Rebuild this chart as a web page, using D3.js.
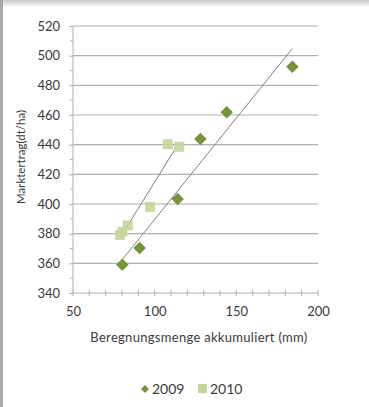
<!DOCTYPE html>
<html><head><meta charset="utf-8">
<script src="https://cdn.jsdelivr.net/npm/d3@7"></script>
<style>
body{margin:0;padding:0;background:#fff;}
text{font-family:Lato,"Open Sans",sans-serif;fill:#3a3a3a;}
</style></head>
<body>
<svg id="c" width="369" height="407"></svg>
<script>
const x2009 = [80.2, 90.8, 114.1, 128, 144.1, 184.3];
const y2009 = [359, 370.3, 403.4, 443.8, 461.8, 492.6];
const x2010 = [78.8, 80.2, 83.5, 97.2, 108, 115.1];
const y2010 = [379.1, 381.3, 385.6, 398, 440.3, 438.6];
const xTicks = [50, 100, 150, 200];
const yTicks = [340, 360, 380, 400, 420, 440, 460, 480, 500, 520];
const seriesNames = ["2009", "2010"];

const svg = d3.select("#c");
const FONT = "Lato,'Open Sans',sans-serif";
// frame
const defs = svg.append("defs");
const g1 = defs.append("linearGradient").attr("id","tg").attr("x1",0).attr("y1",0).attr("x2",0).attr("y2",1);
g1.append("stop").attr("offset","0%").attr("stop-color","#c8c8c8");
g1.append("stop").attr("offset","100%").attr("stop-color","#f2f2f2");
svg.append("rect").attr("x",0).attr("y",0).attr("width",369).attr("height",407).attr("fill","#fff");
svg.append("rect").attr("x",0).attr("y",0).attr("width",369).attr("height",6).attr("fill","url(#tg)");
svg.append("rect").attr("x",0).attr("y",0).attr("width",3).attr("height",407).attr("fill","#a8a8a8");

const x = d3.scaleLinear().domain([50,200]).range([73,318]);
const y = d3.scaleLinear().domain([340,520]).range([293,26]);

// gridlines
svg.append("g").selectAll("line").data(yTicks.slice(1)).join("line")
  .attr("x1",73).attr("x2",318).attr("y1",d=>y(d)).attr("y2",d=>y(d))
  .attr("stroke","#b0b0b0").attr("stroke-width",1.2);

// y axis
const ya = svg.append("g").attr("transform","translate(73,0)")
  .call(d3.axisLeft(y).tickValues(yTicks).tickSize(4).tickPadding(9));
ya.select(".domain").attr("stroke","#b0b0b0").attr("d","M0,26V293");
ya.selectAll(".tick line").attr("stroke","#b0b0b0");
ya.selectAll("text").attr("font-size","13px").attr("fill","#3a3a3a").attr("font-family",FONT);
svg.append("g").selectAll("line").data(d3.range(350,520,20)).join("line")
  .attr("x1",70).attr("x2",73).attr("y1",d=>y(d)).attr("y2",d=>y(d)).attr("stroke","#b0b0b0");

// x axis
const xa = svg.append("g").attr("transform","translate(0,293)")
  .call(d3.axisBottom(x).tickValues(xTicks).tickSize(0).tickPadding(14));
xa.select(".domain").attr("stroke","#b0b0b0").attr("d","M73,0H318");
xa.selectAll("text").attr("font-size","13px").attr("fill","#3a3a3a").attr("font-family",FONT);
svg.append("g").selectAll("line").data(d3.range(50,201,10)).join("line")
  .attr("x1",d=>x(d)).attr("x2",d=>x(d)).attr("y1",290).attr("y2",296).attr("stroke","#b0b0b0");

// titles
svg.append("text").attr("transform","translate(25,157) rotate(-90)").attr("text-anchor","middle")
  .attr("font-size","11.5px").text("Marktertrag(dt/ha)");
svg.append("text").attr("x",199).attr("y",342).attr("text-anchor","middle")
  .attr("font-size","13px").attr("letter-spacing","0.3px").text("Beregnungsmenge akkumuliert (mm)");

// trend lines (least squares)
function fit(xs, ys){
  const mx=d3.mean(xs), my=d3.mean(ys);
  const s=d3.sum(xs,(v,i)=>(v-mx)*(ys[i]-my))/d3.sum(xs,v=>(v-mx)*(v-mx));
  const x0=d3.min(xs), x1=d3.max(xs);
  return [[x0,my+s*(x0-mx)],[x1,my+s*(x1-mx)]];
}
[[x2009,y2009],[x2010,y2010]].forEach(([xs,ys])=>{
  const p=fit(xs,ys);
  svg.append("line").attr("x1",x(p[0][0])).attr("y1",y(p[0][1])).attr("x2",x(p[1][0])).attr("y2",y(p[1][1]))
    .attr("stroke","#7f7f7f").attr("stroke-width",1);
});

// points
const d2010 = x2010.map((v,i)=>[v,y2010[i]]);
const d2009 = x2009.map((v,i)=>[v,y2009[i]]);
svg.append("g").selectAll("rect").data(d2010).join("rect")
  .attr("x",d=>x(d[0])-5).attr("y",d=>y(d[1])-5).attr("width",10).attr("height",10)
  .attr("fill","#c3d69b").attr("fill-opacity",0.9);
const diamond = d3.symbol().type(d3.symbolDiamond2).size(100);
svg.append("g").selectAll("path").data(d2009).join("path")
  .attr("transform",d=>`translate(${x(d[0])},${y(d[1])})`).attr("d",diamond).attr("fill","#77933c");

// legend
const lg = svg.append("g");
lg.append("path").attr("transform","translate(145,389)").attr("d",d3.symbol().type(d3.symbolDiamond2).size(40)).attr("fill","#77933c");
lg.append("text").attr("x",152).attr("y",394).attr("font-size","14px").text(seriesNames[0]);
lg.append("rect").attr("x",198).attr("y",384).attr("width",9).attr("height",9).attr("fill","#c3d69b");
lg.append("text").attr("x",210).attr("y",394).attr("font-size","14px").text(seriesNames[1]);
</script>
</body></html>
